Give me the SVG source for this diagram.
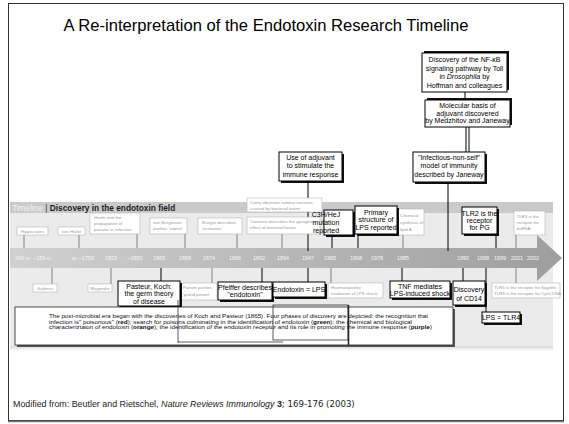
<svg xmlns="http://www.w3.org/2000/svg" width="569" height="424" viewBox="0 0 569 424">
<defs>
<linearGradient id="band" gradientUnits="userSpaceOnUse" x1="10" y1="0" x2="562" y2="0">
<stop offset="0" stop-color="#d0d0d0"/><stop offset="1" stop-color="#9e9e9e"/>
</linearGradient>
<linearGradient id="pshadow" x1="0" y1="0" x2="0" y2="1">
<stop offset="0" stop-color="#cfcfcf"/><stop offset="1" stop-color="#ffffff"/>
</linearGradient>
</defs>
<style>
text{font-family:"Liberation Sans",Arial,sans-serif}
.gb{fill:#fff;stroke:#b5b5b5;stroke-width:0.6}
.gt{font-size:4.4px;fill:#9a9a9a}
.bb{fill:#fff;stroke:#000;stroke-width:1}
.sh{fill:#111}
.bt{font-size:7px;fill:#000;text-anchor:middle}
.yr{font-size:5.4px;fill:#f6f6f6}
.sm{font-size:3.8px}
.gc{stroke:#666;stroke-width:0.8;fill:none}
.bc{stroke:#000;stroke-width:1;fill:none}
.art{fill:none;stroke:#333;stroke-width:0.8}
</style>
<rect x="0" y="0" width="569" height="424" fill="#fff"/>
<rect x="8.5" y="3.5" width="555" height="417" fill="#fff" stroke="#333" stroke-width="1"/>
<line x1="8" y1="421.5" x2="564" y2="421.5" stroke="#777" stroke-width="1.5"/>
<text x="266" y="30.5" font-family="'DejaVu Sans',sans-serif" font-size="16.6" text-anchor="middle" fill="#000">A Re-interpretation of the Endotoxin Research Timeline</text>

<!-- timeline panel -->
<rect x="10" y="345" width="543" height="6" fill="url(#pshadow)"/>
<rect x="10" y="202" width="543" height="144" fill="#ebebeb"/>
<rect x="10" y="202" width="543" height="11" fill="#cacaca"/>
<text x="12" y="210.8" font-size="8.3"><tspan fill="#f4f4f4">Timeline</tspan><tspan fill="#333"> | </tspan><tspan fill="#1a1a1a" font-weight="bold">Discovery in the endotoxin field</tspan></text>
<g id="arrow">
<rect x="10" y="248" width="527" height="20" fill="url(#band)"/>
<polygon points="537,235 562,258 537,281" fill="url(#band)"/>
</g>
<g id="years" class="yr">
<text x="15" y="260">400 <tspan class="sm">BC</tspan></text>
<text x="33" y="260">~150 <tspan class="sm">BC</tspan></text>
<text x="72" y="260"><tspan class="sm">AD</tspan> ~1750</text>
<text x="105" y="260">1823</text>
<text x="127" y="260">~1850</text>
<text x="153" y="260">1865</text>
<text x="179" y="260">1868</text>
<text x="203" y="260">1874</text>
<text x="229" y="260">1886</text>
<text x="253" y="260">1892</text>
<text x="277" y="260">1894</text>
<text x="302" y="260">1947</text>
<text x="324" y="260">1965</text>
<text x="350" y="260">1968</text>
<text x="371" y="260">1978</text>
<text x="397" y="260">1985</text>
<text x="457" y="260">1990</text>
<text x="477" y="260">1998</text>
<text x="494" y="260">1999</text>
<text x="511" y="260">2001</text>
<text x="527" y="260">2002</text>
</g>

<!-- connectors -->
<g id="connectors">
<line class="bc" x1="465" y1="92" x2="465" y2="100"/>
<line class="bc" x1="466" y1="127" x2="466" y2="152"/>
<line class="bc" x1="469" y1="127" x2="469" y2="152"/>
<line class="bc" x1="448" y1="182" x2="448" y2="251"/>
<line class="bc" x1="308" y1="181" x2="308" y2="251"/>
<line class="bc" x1="332" y1="235" x2="332" y2="248"/>
<line class="bc" x1="358" y1="234" x2="358" y2="248"/>
<line class="bc" x1="496" y1="234" x2="496" y2="248"/>
<line class="gc" x1="24" y1="235" x2="24" y2="248"/>
<line class="gc" x1="79" y1="235" x2="79" y2="248"/>
<line class="gc" x1="137" y1="234" x2="137" y2="248"/>
<line class="gc" x1="185" y1="234" x2="185" y2="248"/>
<line class="gc" x1="237" y1="234" x2="237" y2="248"/>
<line class="gc" x1="282" y1="234" x2="282" y2="248"/>
<line class="gc" x1="403" y1="235" x2="403" y2="248"/>
<line class="gc" x1="516" y1="235" x2="516" y2="248"/>
<line class="gc" x1="52" y1="268" x2="52" y2="284"/>
<line class="gc" x1="111" y1="268" x2="111" y2="284"/>
<line class="gc" x1="212" y1="268" x2="212" y2="283"/>
<line class="gc" x1="331" y1="268" x2="331" y2="283"/>
<line class="gc" x1="516" y1="268" x2="516" y2="283"/>
<line class="bc" x1="161" y1="268" x2="161" y2="281"/>
<line class="bc" x1="262" y1="268" x2="262" y2="282"/>
<line class="bc" x1="308" y1="268" x2="308" y2="282"/>
<line class="bc" x1="402" y1="268" x2="402" y2="281"/>
<line class="bc" x1="463" y1="268" x2="463" y2="281"/>
<line class="bc" x1="486" y1="268" x2="486" y2="312"/>
</g>

<!-- top black boxes -->
<g id="nfkb">
<rect class="sh" x="424" y="51" width="85" height="39"/>
<rect class="bb" x="422" y="53" width="85" height="39"/>
<text class="bt" x="464.5" y="62">Discovery of the NF-κB</text>
<text class="bt" x="464.5" y="70.5">signaling pathway by Toll</text>
<text class="bt" x="464.5" y="79">in <tspan font-style="italic">Drosophila</tspan> by</text>
<text class="bt" x="464.5" y="87.5">Hoffman and colleagues</text>
</g>
<g id="molecular">
<rect class="sh" x="427" y="98" width="85" height="27"/>
<rect class="bb" x="425" y="100" width="85" height="27"/>
<text class="bt" x="467.5" y="108">Molecular basis of</text>
<text class="bt" x="467.5" y="115.5">adjuvant discovered</text>
<text class="bt" x="467.5" y="123">by Medzhitov and Janeway</text>
</g>
<g id="infectious">
<rect class="sh" x="415" y="154" width="72" height="30"/>
<rect class="bb" x="413" y="152" width="72" height="30"/>
<text class="bt" x="449" y="159.5">"Infectious-non-self"</text>
<text class="bt" x="449" y="168">model of immunity</text>
<text class="bt" x="449" y="176.5">described by Janeway</text>
</g>
<g id="adjuvant">
<rect class="sh" x="281" y="154" width="63" height="29"/>
<rect class="bb" x="279" y="152" width="63" height="29"/>
<text class="bt" x="310.5" y="159.5">Use of adjuvant</text>
<text class="bt" x="310.5" y="168">to stimulate the</text>
<text class="bt" x="310.5" y="176.5">immune response</text>
</g>

<!-- gray boxes above -->
<g id="hippocrates"><rect class="gb" x="17" y="227" width="31" height="8"/><text class="gt" x="32.5" y="232.8" text-anchor="middle">Hippocrates</text></g>
<g id="vonhaller"><rect class="gb" x="58" y="227" width="27" height="8"/><text class="gt" x="71.5" y="232.8" text-anchor="middle">von Haller</text></g>
<g id="henle"><rect class="gb" x="90" y="213" width="50" height="21"/><text class="gt" x="94" y="219">Henle and the</text><text class="gt" x="94" y="224.8">propagation of</text><text class="gt" x="94" y="230.6">poisons in infection</text></g>
<g id="bergmann"><rect class="gb" x="150" y="218" width="37" height="16"/><text class="gt" x="153" y="224">von Bergmann</text><text class="gt" x="153" y="230">purifies 'sepsin'</text></g>
<g id="brieger"><rect class="gb" x="198" y="218" width="44" height="16"/><text class="gt" x="202" y="224">Brieger describes</text><text class="gt" x="202" y="230">'ecotoxins'</text></g>
<g id="coley"><rect class="gb" x="247" y="198" width="75" height="14"/><text class="gt" x="250" y="204">Coley observes tumour necrosis</text><text class="gt" x="250" y="210">caused by bacterial toxins</text></g>
<g id="centanni"><rect class="gb" x="247" y="217" width="73" height="17"/><text class="gt" x="250" y="223">Centanni describes the pyrogenic</text><text class="gt" x="250" y="229">effect of bacterial toxins</text></g>
<g id="chemical"><rect class="gb" x="398" y="209" width="26" height="26"/><text class="gt" x="400" y="216.5">Chemical</text><text class="gt" x="400" y="223.5">synthesis of</text><text class="gt" x="400" y="230.5">lipid A</text></g>
<g id="tlr3"><rect class="gb" x="514" y="211" width="31" height="24"/><text class="gt" x="516.5" y="218">TLR3 is the</text><text class="gt" x="516.5" y="224">receptor for</text><text class="gt" x="516.5" y="230">dsRNA</text></g>

<!-- black boxes above -->
<g id="c3h">
<rect class="sh" x="326" y="212" width="29" height="25"/>
<rect class="bb" x="324" y="210" width="29" height="25"/>
<text class="bt" x="326" y="216.5" font-size="6" text-anchor="start">C3H/HeJ</text>
<text class="bt" x="326" y="224.5" font-size="6" text-anchor="start">mutation</text>
<text class="bt" x="326" y="232.5" font-size="6" text-anchor="start">reported</text>
</g>
<g id="primary">
<rect class="sh" x="357" y="208" width="42" height="28"/>
<rect class="bb" x="355" y="206" width="42" height="28"/>
<text class="bt" x="376" y="214.5" font-size="6.5">Primary</text>
<text class="bt" x="376" y="222" font-size="6.5">structure of</text>
<text class="bt" x="376" y="229.5" font-size="6.5">LPS reported</text>
</g>
<g id="tlr2">
<rect class="sh" x="464" y="209" width="35" height="27"/>
<rect class="bb" x="462" y="207" width="35" height="27"/>
<text class="bt" x="479.5" y="216" font-size="6.5">TLR2 is the</text>
<text class="bt" x="479.5" y="223" font-size="6.5">receptor</text>
<text class="bt" x="479.5" y="230" font-size="6.5">for PG</text>
</g>

<!-- gray boxes below -->
<g id="galenos"><rect class="gb" x="33" y="284" width="24" height="8"/><text class="gt" x="45" y="289.8" text-anchor="middle">Galenos</text></g>
<g id="magendie"><rect class="gb" x="88" y="284" width="24" height="8"/><text class="gt" x="100" y="289.8" text-anchor="middle">Magendie</text></g>
<g id="panum"><rect class="gb" x="181" y="283" width="36" height="17"/><text class="gt" x="183" y="289">Panum purifies</text><text class="gt" x="183" y="295.5">'putrid poison'</text></g>
<g id="haemato"><rect class="gb" x="328" y="283" width="55" height="15"/><text class="gt" x="331" y="289">Haematopoietic</text><text class="gt" x="331" y="295">irradiation of LPS shock</text></g>
<g id="tlr59"><rect class="gb" x="492" y="283" width="68" height="15"/><text class="gt" x="494" y="289">TLR5 is the receptor for flagellin.</text><text class="gt" x="494" y="295">TLR9 is the receptor for CpG DNA</text></g>

<!-- black boxes below -->
<g id="pasteur">
<rect class="sh" x="120" y="283" width="62" height="25"/>
<rect class="bb" x="118" y="281" width="62" height="25"/>
<text class="bt" x="149" y="288.5">Pasteur, Koch:</text>
<text class="bt" x="149" y="296">the germ theory</text>
<text class="bt" x="149" y="303.5">of disease</text>
</g>
<g id="pfeiffer">
<rect class="sh" x="220" y="284" width="54" height="18"/>
<rect class="bb" x="218" y="282" width="54" height="18"/>
<text class="bt" x="245" y="289.5" font-size="6.3">Pfeiffer describes</text>
<text class="bt" x="245" y="297" font-size="6.3">"endotoxin"</text>
</g>
<g id="endolps">
<rect class="sh" x="275" y="284" width="52" height="15"/>
<rect class="bb" x="273" y="282" width="52" height="15"/>
<text class="bt" x="299" y="292" font-size="6.5">Endotoxin = LPS</text>
</g>
<g id="tnf">
<rect class="sh" x="392" y="283" width="60" height="17"/>
<rect class="bb" x="390" y="281" width="60" height="17"/>
<text class="bt" x="420" y="288.5" font-size="6.5">TNF mediates</text>
<text class="bt" x="420" y="295.5" font-size="6.5">LPS-induced shock</text>
</g>
<g id="cd14">
<rect class="sh" x="455" y="283" width="32" height="24"/>
<rect class="bb" x="453" y="281" width="32" height="24"/>
<text class="bt" x="469" y="292" font-size="6.5">Discovery</text>
<text class="bt" x="469" y="300.5" font-size="6.5">of CD14</text>
</g>

<!-- explanation box -->
<g id="caption">
<rect x="17" y="309" width="438" height="38" fill="#555"/>
<rect x="15" y="307" width="438" height="38" fill="#fff" stroke="#222" stroke-width="0.8"/>
<g font-size="5.9" fill="#111">
<text x="49" y="317.8" textLength="379" lengthAdjust="spacingAndGlyphs">The post-microbial era began with the discoveries of Koch and Pasteur (1865). Four phases of discovery are depicted: the recognition that</text>
<text x="49" y="323.5" textLength="363" lengthAdjust="spacingAndGlyphs">infection is" poisonous" (<tspan font-weight="bold">red</tspan>); search for poisons culminating in the identification of endotoxin (<tspan font-weight="bold">green</tspan>); the chemical and biological</text>
<text x="49" y="329.2" textLength="383" lengthAdjust="spacingAndGlyphs">characteriztaion of endotoxin (<tspan font-weight="bold">orange</tspan>); the identification of the endotoxin receptor and its role in promoting the immune response (<tspan font-weight="bold">purple</tspan>)</text>
</g>
<line class="art" x1="178" y1="300" x2="178" y2="343"/>
<line class="art" x1="178" y1="342" x2="283" y2="342"/>
<rect class="art" x="273" y="305" width="75" height="35"/>
<line x1="348.5" y1="305" x2="348.5" y2="345" stroke="#222" stroke-width="1.5"/>
</g>
<g id="tlr4">
<rect class="sh" x="484" y="314" width="38" height="11"/>
<rect class="bb" x="482" y="312" width="38" height="11"/>
<text class="bt" x="501" y="320" font-size="6">LPS = TLR4</text>
</g>

<text x="13" y="407" font-size="8.9" fill="#222">Modified from: Beutler and Rietschel, <tspan font-style="italic">Nature Reviews Immunology</tspan> <tspan font-weight="bold">3</tspan><tspan font-family="DejaVu Sans" font-size="8.6">; 169-176 (2003)</tspan></text>
</svg>
